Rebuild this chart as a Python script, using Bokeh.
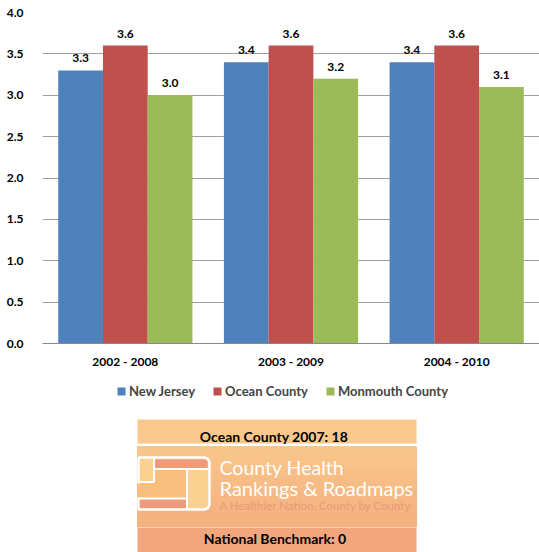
from bokeh.plotting import figure
from bokeh.models import (ColumnDataSource, FactorRange, Legend, LegendItem, Range1d,
                          LabelSet, FixedTicker, CustomJSTickFormatter)
from bokeh.transform import dodge
from bokeh.core.properties import value
from bokeh.embed import file_html
from bokeh.resources import INLINE

# ---- data ----
periods = ["2002 - 2008", "2003 - 2009", "2004 - 2010"]
new_jersey = [3.3, 3.4, 3.4]
ocean_county = [3.6, 3.6, 3.6]
monmouth_county = [3.0, 3.2, 3.1]
series_names = ["New Jersey", "Ocean County", "Monmouth County"]
series_colors = ["#4F81BD", "#C0504D", "#9BBB59"]
y_ticks = [0.0, 0.5, 1.0, 1.5, 2.0, 2.5, 3.0, 3.5, 4.0]
box_title = "Ocean County 2007: 18"
box_footer = "National Benchmark: 0"
logo_line1 = "County Health"
logo_line2 = "Rankings & Roadmaps"
logo_tagline = "A Healthier Nation, County by County"

FONT = "Lato"

src = ColumnDataSource(dict(
    period=periods,
    nj=new_jersey, oc=ocean_county, mc=monmouth_county,
    nj_t=[f"{v:.1f}" for v in new_jersey],
    oc_t=[f"{v:.1f}" for v in ocean_county],
    mc_t=[f"{v:.1f}" for v in monmouth_county],
))

TOP_H = 375
p = figure(width=539, height=TOP_H, x_range=FactorRange(*periods, range_padding=0),
           y_range=Range1d(0, 4.0), output_backend="svg", toolbar_location=None,
           min_border_left=42, min_border_right=0, min_border_top=12,
           min_border_bottom=32)
p.outline_line_color = None
p.xgrid.grid_line_color = None
p.ygrid.grid_line_color = "#A0A0A0"
p.ygrid.grid_line_width = 1
p.yaxis.ticker = FixedTicker(ticks=y_ticks)
p.yaxis.formatter = CustomJSTickFormatter(code="return tick.toFixed(1);")
p.yaxis.axis_line_color = None
p.yaxis.major_tick_line_color = None
p.yaxis.minor_tick_line_color = None
p.yaxis.major_label_standoff = 13
p.yaxis.major_label_text_font = FONT
p.yaxis.major_label_text_font_style = "bold"
p.yaxis.major_label_text_font_size = "12px"
p.yaxis.major_label_text_color = "black"
p.xaxis.axis_line_color = "#888888"
p.xaxis.major_tick_line_color = None
p.xaxis.minor_tick_line_color = None
p.xaxis.major_tick_out = 0
p.xaxis.major_tick_in = 0
p.xaxis.major_label_standoff = 10
p.xaxis.major_label_text_font = FONT
p.xaxis.major_label_text_font_style = "bold"
p.xaxis.major_label_text_font_size = "12px"
p.xaxis.major_label_text_color = "black"

bw = 0.27
offsets = [-bw, 0.0, bw]
cols = ["nj", "oc", "mc"]
for name, color, col, off in zip(series_names, series_colors, cols, offsets):
    p.vbar(x=dodge("period", off, range=p.x_range), top=col, width=bw,
           source=src, fill_color=color, line_color=None)
    lbl = LabelSet(x=dodge("period", off, range=p.x_range), y=col, text=col + "_t",
                   source=src, text_align="center", text_baseline="alphabetic", y_offset=8,
                   text_font=value(FONT), text_font_style="bold", text_font_size="12px",
                   text_color="black")
    p.add_layout(lbl)

# ---- lower figure: legend + box ----
H = 552 - TOP_H
b = figure(width=539, height=H, x_range=Range1d(0, 539), y_range=Range1d(H, 0),
           output_backend="svg", toolbar_location=None,
           min_border=0, min_border_left=0, min_border_right=0, min_border_top=0,
           min_border_bottom=0)
b.axis.visible = False
b.grid.visible = False
b.outline_line_color = None

# legend (swatches from the series colours; dummy points lie outside the view)
items = []
for name, color in zip(series_names, series_colors):
    dummy = ColumnDataSource(dict(x=[-1000], top=[-1000]))
    r = b.vbar(x="x", top="top", width=1, source=dummy, fill_color=color, line_color=None)
    items.append(LegendItem(label=name, renderers=[r]))
legend = Legend(items=items, orientation="horizontal", location=(116, H - 17 - 7),
                glyph_width=10, glyph_height=10, label_height=14, spacing=17,
                label_standoff=3, label_text_font=FONT, label_text_font_style="bold",
                label_text_font_size="13px", border_line_color=None,
                background_fill_alpha=0, margin=0, padding=0)
b.add_layout(legend)

def Y(page_y):
    return page_y - TOP_H

x0, x1 = 137, 416
xc = (x0 + x1) / 2
b.quad(left=[x0], right=[x1], top=[Y(419)], bottom=[Y(552)], fill_color="#FFFFFF", line_color=None)
b.quad(left=[x0], right=[x1], top=[Y(419)], bottom=[Y(443)], fill_color="#FAC88D", line_color=None)

def mix(c1, c2, t):
    a = [int(c1[i:i + 2], 16) for i in (1, 3, 5)]
    bb = [int(c2[i:i + 2], 16) for i in (1, 3, 5)]
    return "#%02X%02X%02X" % tuple(round(a[k] + (bb[k] - a[k]) * t) for k in range(3))
n = 20
ys = [Y(446) + (525 - 446) * i / n for i in range(n + 1)]
gcols = [mix("#F9C68A", "#F4B180", i / (n - 1)) for i in range(n)]
b.quad(left=[x0] * n, right=[x1] * n, top=ys[:-1], bottom=[y + 1.0 for y in ys[1:]],
       fill_color=gcols, line_color=gcols, line_width=1)
b.quad(left=[x0], right=[x1], top=[Y(527)], bottom=[Y(552)], fill_color="#F1A67E", line_color=None)

# logo
SAL = "#EE9A7C"
LIGHT = "#FBD191"
b.quad(left=[138], right=[208], top=[Y(458)], bottom=[Y(508)], fill_color="#F8BF7E", line_color=None)
b.quad(left=[138], right=[153], top=[Y(458)], bottom=[Y(481)], fill_color=LIGHT, line_color=None)
b.quad(left=[154], right=[207], top=[Y(459)], bottom=[Y(467.5)], fill_color=SAL, line_color=None)
b.quad(left=[187], right=[208], top=[Y(469.5)], bottom=[Y(508)], fill_color=LIGHT, line_color=None)
b.quad(left=[138], right=[186], top=[Y(499)], bottom=[Y(508)], fill_color=SAL, line_color=None)
b.segment(x0=[153.5, 137, 153, 186.5, 137],
          y0=[Y(457), Y(481.5), Y(468.5), Y(468.5), Y(498)],
          x1=[153.5, 153.5, 209, 186.5, 186.5],
          y1=[Y(482), Y(481.5), Y(468.5), Y(509), Y(498)],
          line_color="white", line_width=2)
b.line(x=[138, 138, 204, 207.5, 209, 209, 207.5, 204, 138, 138],
       y=[Y(483), Y(457), Y(457), Y(458.5), Y(462), Y(504), Y(507.5), Y(509), Y(509), Y(497)],
       line_color="white", line_width=2.5)

tx = 219
b.text(x=[tx], y=[Y(467)], text=[logo_line1], text_font=value(FONT),
       text_font_size="19.5px", text_color="white", text_baseline="middle", text_align="left")
b.text(x=[tx], y=[Y(487)], text=[logo_line2], text_font=value(FONT),
       text_font_size="20px", text_color="white", text_baseline="middle", text_align="left")
b.text(x=[tx], y=[Y(505)], text=[logo_tagline], text_font=value(FONT),
       text_font_size="11.5px", text_color="#EC977A", text_baseline="middle", text_align="left")
b.text(x=[xc - 3], y=[Y(436)], text=[box_title], text_font=value(FONT), text_font_style="bold",
       text_font_size="14px", text_color="black", text_baseline="middle", text_align="center")
b.text(x=[xc - 2], y=[Y(537.5)], text=[box_footer], text_font=value(FONT), text_font_style="bold",
       text_font_size="14px", text_color="black", text_baseline="middle", text_align="center")

open("out.html", "w").write(file_html([p, b], INLINE))
